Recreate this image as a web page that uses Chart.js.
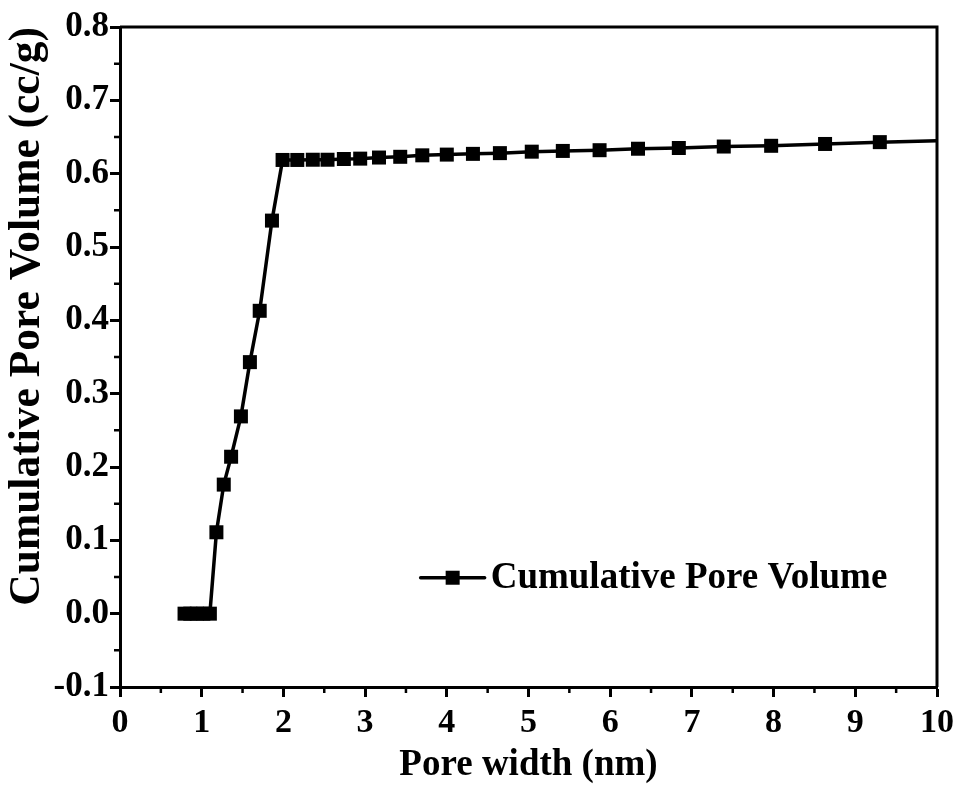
<!DOCTYPE html>
<html>
<head>
<meta charset="utf-8">
<script src="https://cdn.jsdelivr.net/npm/chart.js@4/dist/chart.umd.min.js"></script>
<style>
  html, body { margin: 0; padding: 0; background: #fff; }
  #wrap { width: 960px; height: 785px; }
</style>
</head>
<body>
<div id="wrap"><canvas id="poreChart"></canvas></div>
<script>
// Pore width (nm) and cumulative pore volume (cc/g)
const poreWidth = [0.79, 0.86, 0.94, 1.02, 1.10, 1.18, 1.27, 1.36, 1.48, 1.59, 1.71, 1.86,
    1.99, 2.17, 2.36, 2.54, 2.74, 2.94, 3.17, 3.43, 3.70, 4.00, 4.32, 4.65, 5.04, 5.42,
    5.87, 6.34, 6.84, 7.39, 7.97, 8.63, 9.30, 10.1];
const cumVolume = [0, 0, 0, 0, 0, 0.111, 0.176, 0.214, 0.269, 0.343, 0.413, 0.536,
    0.6187, 0.6187, 0.619, 0.619, 0.620, 0.6205, 0.622, 0.623, 0.625, 0.626, 0.627, 0.628,
    0.630, 0.631, 0.632, 0.634, 0.635, 0.637, 0.638, 0.6405, 0.643, 0.645];
const seriesName = "Cumulative Pore Volume";
const xTicks = [0, 1, 2, 3, 4, 5, 6, 7, 8, 9, 10];
const yTicks = [-0.1, 0.0, 0.1, 0.2, 0.3, 0.4, 0.5, 0.6, 0.7, 0.8];

const FONT = "'Liberation Serif', 'Times New Roman', serif";

// minor ticks, the top/right frame and the in-plot legend
const framePlugin = {
    id: "frame",
    afterDraw(chart) {
        const { ctx, chartArea: a, scales } = chart;
        ctx.save();
        ctx.strokeStyle = "#000";
        ctx.lineWidth = 3;
        ctx.beginPath();
        ctx.moveTo(a.left, a.top);
        ctx.lineTo(a.right, a.top);
        ctx.lineTo(a.right, a.bottom);
        ctx.stroke();

        ctx.lineWidth = 2.5;
        ctx.beginPath();
        for (let i = 0; i < xTicks.length - 1; i++) {
            const px = scales.x.getPixelForValue((xTicks[i] + xTicks[i + 1]) / 2);
            ctx.moveTo(px, a.bottom);
            ctx.lineTo(px, a.bottom + 6);
        }
        for (let i = 0; i < yTicks.length - 1; i++) {
            const py = scales.y.getPixelForValue((yTicks[i] + yTicks[i + 1]) / 2);
            ctx.moveTo(a.left, py);
            ctx.lineTo(a.left - 6, py);
        }
        ctx.stroke();

        // legend entry
        const lx = scales.x.getPixelForValue(3.68);
        const ly = scales.y.getPixelForValue(0.049);
        ctx.lineWidth = 3.5;
        ctx.lineCap = "round";
        ctx.beginPath();
        ctx.moveTo(lx, ly);
        ctx.lineTo(lx + 64, ly);
        ctx.stroke();
        ctx.fillStyle = "#000";
        ctx.fillRect(lx + 25, ly - 7, 14, 14);
        ctx.font = "bold 37px " + FONT;
        ctx.textAlign = "left";
        ctx.textBaseline = "middle";
        ctx.fillText(seriesName, lx + 70, ly + 1);
        ctx.restore();
    }
};

const ctx = document.getElementById("poreChart").getContext("2d");
new Chart(ctx, {
    type: "scatter",
    data: {
        datasets: [{
            label: seriesName,
            data: poreWidth.map((w, i) => ({ x: w, y: cumVolume[i] })),
            showLine: true,
            borderColor: "#000",
            borderWidth: 3.5,
            borderCapStyle: "round",
            pointStyle: "rect",
            pointRadius: 9.9,
            pointHoverRadius: 9.9,
            pointBackgroundColor: "#000",
            pointBorderWidth: 0
        }]
    },
    options: {
        responsive: true,
        maintainAspectRatio: false,
        animation: false,
        events: [],
        layout: { padding: { top: 27, right: 22, left: 0, bottom: 0 } },
        plugins: { legend: { display: false }, tooltip: { enabled: false } },
        scales: {
            x: {
                type: "linear",
                min: 0, max: 10,
                afterBuildTicks: s => { s.ticks = xTicks.map(v => ({ value: v })); },
                afterFit: s => { s.height = 98; },
                grid: { drawOnChartArea: false, drawTicks: true, tickLength: 10, tickWidth: 3, tickColor: "#000" },
                border: { display: true, color: "#000", width: 3 },
                ticks: {
                    color: "#000", padding: 6, maxRotation: 0,
                    font: { family: FONT, weight: "bold", size: 34 }
                },
                title: {
                    display: true, text: "Pore width (nm)", color: "#000",
                    padding: { top: 0, bottom: 1 },
                    font: { family: FONT, weight: "bold", size: 37, lineHeight: 1.0 }
                }
            },
            y: {
                type: "linear",
                min: -0.1, max: 0.8,
                afterBuildTicks: s => { s.ticks = yTicks.map(v => ({ value: v })); },
                afterFit: s => { s.width = 120; },
                grid: { drawOnChartArea: false, drawTicks: true, tickLength: 10, tickWidth: 3, tickColor: "#000" },
                border: { display: true, color: "#000", width: 3 },
                ticks: {
                    color: "#000", padding: 1,
                    callback: v => v.toFixed(1),
                    font: { family: FONT, weight: "bold", size: 35 }
                },
                title: {
                    display: true, text: "Cumulative Pore Volume (cc/g)", color: "#000",
                    align: "end",
                    padding: { top: 2, bottom: 0 },
                    font: { family: FONT, weight: "bold", size: 43.5 }
                }
            }
        }
    },
    plugins: [framePlugin]
});
</script>
</body>
</html>
